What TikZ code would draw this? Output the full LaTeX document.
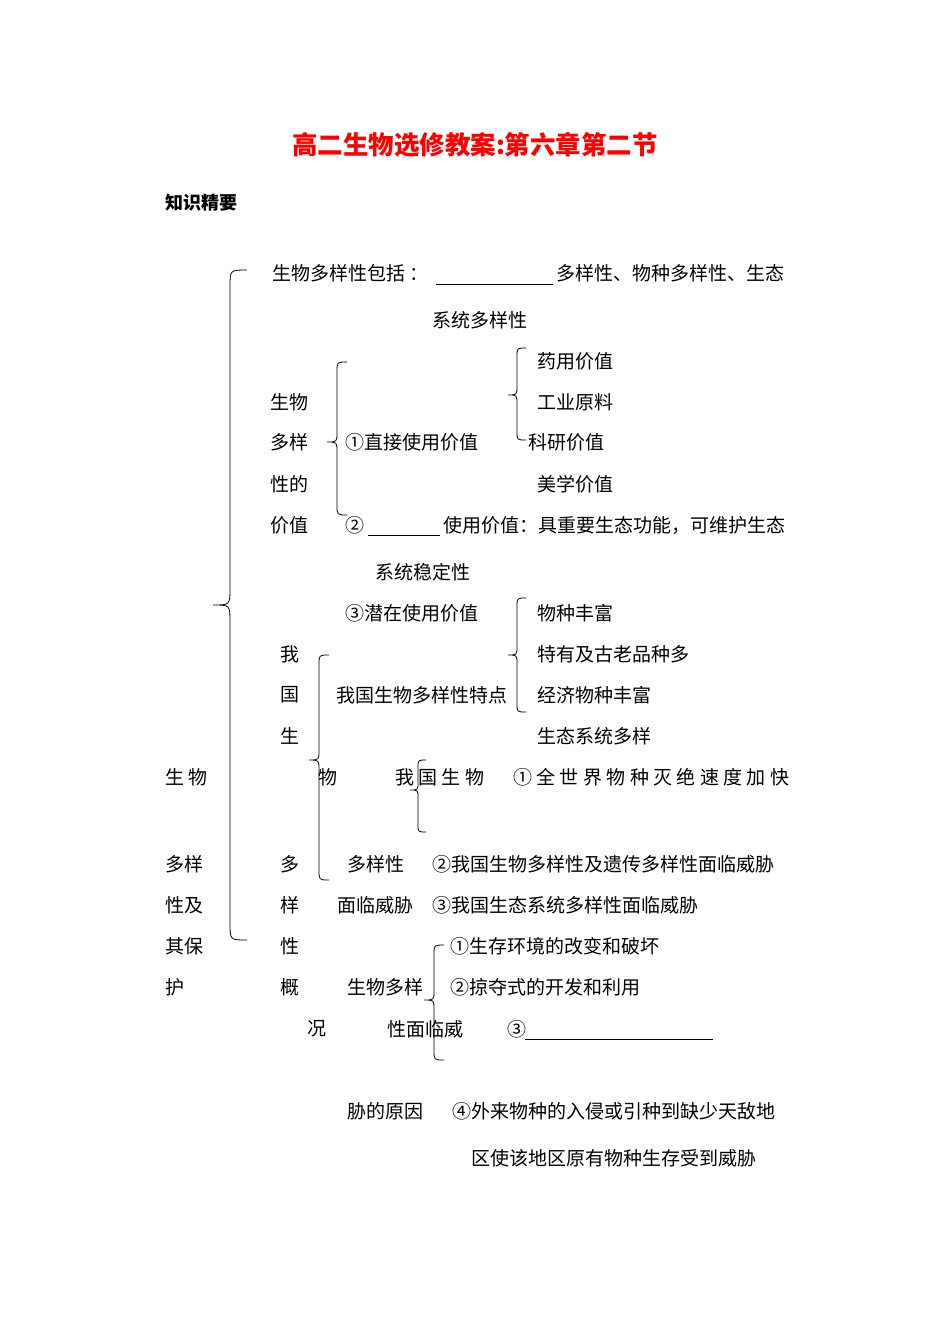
\documentclass[tikz,border=0pt]{standalone}
\usepackage{fontspec}
\setmainfont{Noto Sans CJK SC}
\newfontfamily\spaced[LetterSpace=23]{Noto Sans CJK SC}
\newcommand\mybrace[5]{% x, top, mid, bot, depth
 \draw[brc] (#1+#5,#2) .. controls (#1,#2) .. (#1,#2+#5) -- (#1,#3-#5) .. controls (#1,#3) .. (#1-#5,#3) .. controls (#1,#3) .. (#1,#3+#5) -- (#1,#4-#5) .. controls (#1,#4) .. (#1+#5,#4);}
\begin{document}
\begin{tikzpicture}[x=1pt,y=-1pt,
 t/.style={anchor=west,inner sep=0pt,font=\fontsize{19}{21}\selectfont},
 brc/.style={line width=0.8pt},
 ul/.style={line width=0.7pt}]
\useasboundingbox (0,0) rectangle (950,1342);
\node[font=\fontsize{25.5}{28}\selectfont\bfseries,text=red] (title) at (475,145) {高二生物选修教案:第六章第二节};
\node[t,font=\fontsize{18}{20}\selectfont\bfseries] (zs) at (165,203) {知识精要};
\node[t] (a1) at (272,273) {生物多样性包括 ：};
\draw[ul] (436,284) -- (553,284);
\node[t] (a2) at (556,273) {多样性、物种多样性、生态};
\node[t] (a3) at (432,320) {系统多样性};
\mybrace{230}{270}{605}{940}{17}
\node[t] (b1) at (537,361) {药用价值};
\node[t] (b2) at (537,402) {工业原料};
\node[t] (b3) at (528,442) {科研价值};
\node[t] (b4) at (537,484) {美学价值};
\mybrace{517}{348}{395}{440}{9}
\node[t] (c1) at (270,402) {生物};
\node[t] (c2) at (270,442) {多样};
\node[t] (c3) at (270,484) {性的};
\node[t] (c4) at (270,525) {价值};
\mybrace{337}{362}{442}{515}{10}
\node[t] (d1) at (345,442) {①直接使用价值};
\node[t] (d2) at (345,525) {②};
\draw[ul] (368,535) -- (440,535);
\node[t] (d3) at (443,525) {使用价值：具重要生态功能，可维护生态};
\node[t] (d4) at (375,572) {系统稳定性};
\node[t] (d5) at (345,613) {③潜在使用价值};
\mybrace{517}{598}{655}{712}{9}
\node[t] (e1) at (537,613) {物种丰富};
\node[t] (e2) at (537,654) {特有及古老品种多};
\node[t] (e3) at (537,695) {经济物种丰富};
\node[t] (e4) at (537,736) {生态系统多样};
\node[t] (f1) at (280,654) {我};
\node[t] (f2) at (280,695) {国};
\node[t] (f3) at (280,736) {生};
\node[t] (f4) at (318,777) {物};
\node[t] (f5) at (280,864) {多};
\node[t] (f6) at (280,905) {样};
\node[t] (f7) at (280,946) {性};
\node[t] (f8) at (280,987) {概};
\node[t] (f9) at (307,1029) {况};
\mybrace{319}{655}{760}{880}{10}
\node[t] (g1) at (336,695) {我国生物多样性特点};
\node[t,font=\fontsize{19}{21}\spaced] (g2) at (395,777) {我国生物};
\mybrace{418}{760}{790}{832}{8}
\node[t,font=\fontsize{19}{21}\spaced] (g3) at (513,777) {①全世界物种灭绝速度加快};
\node[t] (g4) at (347,864) {多样性};
\node[t] (g5) at (432,864) {②我国生物多样性及遗传多样性面临威胁};
\node[t] (g6) at (337,905) {面临威胁};
\node[t] (g7) at (432,905) {③我国生态系统多样性面临威胁};
\node[t] (h1) at (165,777) {生 物};
\node[t] (h2) at (165,864) {多样};
\node[t] (h3) at (165,905) {性及};
\node[t] (h4) at (165,946) {其保};
\node[t] (h5) at (165,987) {护};
\mybrace{434}{945}{1000}{1060}{10}
\node[t] (i1) at (450,946) {①生存环境的改变和破坏};
\node[t] (i2) at (347,987) {生物多样};
\node[t] (i3) at (450,987) {②掠夺式的开发和利用};
\node[t] (i4) at (387,1029) {性面临威};
\node[t] (i5) at (507,1029) {③};
\draw[ul] (525,1039) -- (713,1039);
\node[t] (i6) at (347,1111) {胁的原因};
\node[t] (i7) at (452,1111) {④外来物种的入侵或引种到缺少天敌地};
\node[t] (i8) at (471,1158) {区使该地区原有物种生存受到威胁};
\end{tikzpicture}
\end{document}
